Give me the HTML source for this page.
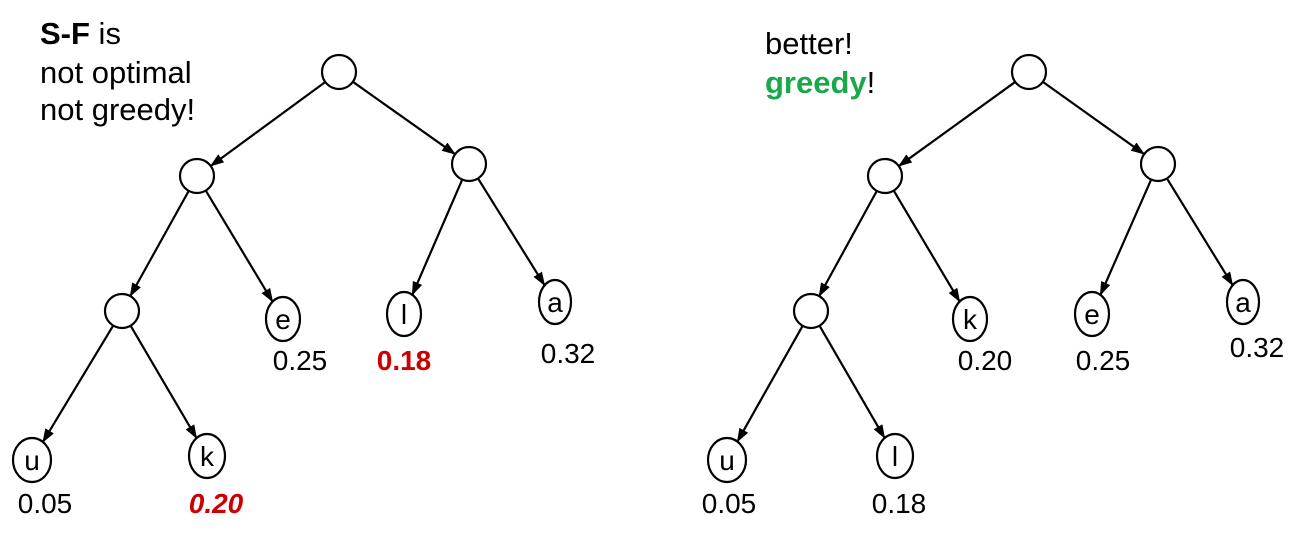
<!DOCTYPE html>
<html><head><meta charset="utf-8"><style>
html,body{margin:0;padding:0;background:#fff;}
svg{display:block;font-family:"Liberation Sans",sans-serif;}
</style></head><body>
<svg id="s" width="1295" height="544" viewBox="0 0 1295 544" xmlns="http://www.w3.org/2000/svg">
<defs><marker id="ah" markerWidth="14" markerHeight="10" refX="13" refY="5" orient="auto" markerUnits="userSpaceOnUse"><path d="M0,0 L14,5 L0,10 z" fill="#000"/></marker></defs>
<g font-size="31" fill="#000">
<text x="40" y="44"><tspan font-weight="bold">S-F</tspan> is</text>
<text x="40" y="83">not optimal</text>
<text x="40" y="120">not greedy!</text>
<text x="765" y="54">better!</text>
<text x="765" y="93"><tspan fill="#1aa84a" font-weight="bold">greedy</tspan>!</text>
</g>
<g id="edges" stroke="#000" stroke-width="2.2" fill="none"></g>
<g id="nodes" stroke="#000" stroke-width="2.2" fill="#fff"></g>
<g font-size="28" text-anchor="middle">
<text x="300" y="370">0.25</text>
<text x="404" y="370" fill="#cc0000" font-weight="bold">0.18</text>
<text x="568" y="363">0.32</text>
<text x="45" y="513">0.05</text>
<text x="216" y="513" fill="#cc0000" font-weight="bold" font-style="italic">0.20</text>
<text x="985" y="370">0.20</text>
<text x="1103" y="370">0.25</text>
<text x="1257" y="357">0.32</text>
<text x="729" y="513">0.05</text>
<text x="899" y="513">0.18</text>
</g>
</svg>
<script>
var N={
A0:[339,72,17,17,''],A1:[197,176,17,17,''],A2:[469,164,17,17,''],A3:[122,311,17,17,''],
Ae:[283,319,17,22,'e'],Al:[404,314,17,22,'l'],Aa:[555,302,16,22,'a'],Au:[32,460,19,22,'u'],Ak:[207,456,18,22,'k'],
B0:[1029,72,17,17,''],B1:[885,176,17,17,''],B2:[1158,164,17,17,''],B3:[811,311,17,17,''],
Bk:[970,319,17,22,'k'],Be:[1092,314,17,22,'e'],Ba:[1243,302,16,22,'a'],Bu:[727,460,19,22,'u'],Bl:[895,456,18,22,'l']};
var E=[['A0','A1'],['A0','A2'],['A1','A3'],['A1','Ae'],['A2','Al'],['A2','Aa'],['A3','Au'],['A3','Ak'],
['B0','B1'],['B0','B2'],['B1','B3'],['B1','Bk'],['B2','Be'],['B2','Ba'],['B3','Bu'],['B3','Bl']];
var ns='http://www.w3.org/2000/svg';
function pt(n,dx,dy){var t=Math.atan2(dy/n[3],dx/n[2]);return [n[0]+n[2]*Math.cos(t),n[1]+n[3]*Math.sin(t)];}
var eg=document.getElementById('edges'),ng=document.getElementById('nodes');
E.forEach(function(e){var a=N[e[0]],b=N[e[1]];var dx=b[0]-a[0],dy=b[1]-a[1];
var p=pt(a,dx,dy),q=pt(b,-dx,-dy);var l=document.createElementNS(ns,'line');
l.setAttribute('x1',p[0]);l.setAttribute('y1',p[1]);l.setAttribute('x2',q[0]);l.setAttribute('y2',q[1]);
l.setAttribute('marker-end','url(#ah)');eg.appendChild(l);});
for(var k in N){var n=N[k];var c=document.createElementNS(ns,'ellipse');
c.setAttribute('cx',n[0]);c.setAttribute('cy',n[1]);c.setAttribute('rx',n[2]);c.setAttribute('ry',n[3]);ng.appendChild(c);
if(n[4]){var t=document.createElementNS(ns,'text');t.setAttribute('x',n[0]);t.setAttribute('y',n[1]+10);
t.setAttribute('text-anchor','middle');t.setAttribute('font-size','28');t.setAttribute('fill','#000');t.setAttribute('stroke','none');
t.textContent=n[4];ng.appendChild(t);}}
</script>
</body></html>
